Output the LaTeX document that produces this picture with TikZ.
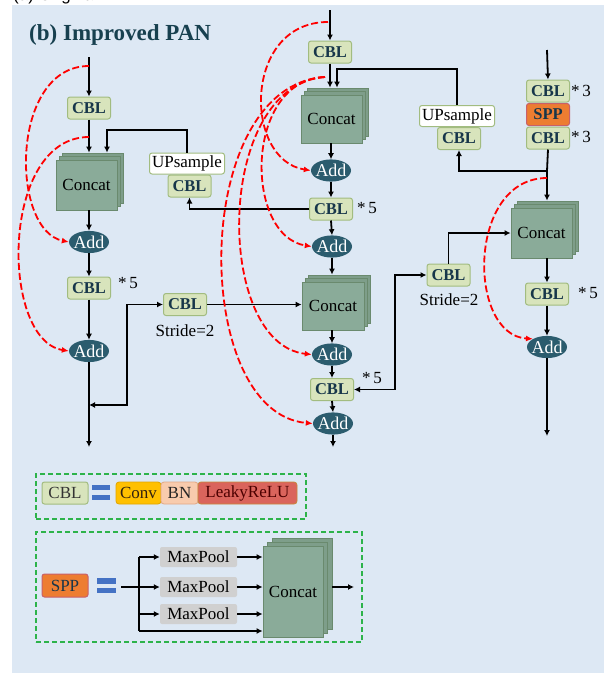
\documentclass[tikz,border=0pt]{standalone}
\usepackage{fontspec}
\setmainfont{Liberation Serif}
\setsansfont{Liberation Sans}
\usetikzlibrary{shapes.geometric,arrows.meta,calc}

\definecolor{panelbg}{HTML}{DDE8F4}
\definecolor{cblfill}{HTML}{D8E4BC}
\definecolor{cblborder}{HTML}{A2BC80}
\definecolor{cbltext}{HTML}{17364A}
\definecolor{addfill}{HTML}{2B5C6E}
\definecolor{catfill}{HTML}{8AAB99}
\definecolor{catback}{HTML}{7E9E8A}
\definecolor{catborder}{HTML}{6A8A6E}
\definecolor{titlecol}{HTML}{17404F}
\definecolor{sppfill}{HTML}{ED7D31}
\definecolor{sppborder}{HTML}{C8606A}
\definecolor{legend}{HTML}{2DB34A}
\definecolor{eqblue}{HTML}{4472C4}
\definecolor{convfill}{HTML}{FFC000}
\definecolor{convborder}{HTML}{E0A400}
\definecolor{bnfill}{HTML}{F8CBAD}
\definecolor{bnborder}{HTML}{E2A885}
\definecolor{leakyfill}{HTML}{DA645C}
\definecolor{leakyborder}{HTML}{C8883A}
\definecolor{poolfill}{HTML}{D0D0D0}

% three stacked cards labelled Concat: name, x, y, width, height, dx, dy
\newcommand\concatstack[7]{%
  \node[catbk, minimum width=#4, minimum height=#5] (#1-b2) at ($(#2,#3)+(#6,-#7)$) {};
  \node[catbk, minimum width=#4, minimum height=#5] (#1-b1) at ($(#2,#3)+(0.5*#6,-0.5*#7)$) {};
  \node[catfr, minimum width=#4, minimum height=#5] (#1) at (#2,#3) {Concat};
}

\begin{document}
\begin{tikzpicture}[x=1pt,y=-1pt,
  every node/.style={font=\fontsize{17}{19}\selectfont},
  conn/.style={line width=1.8pt, -{Latex[length=6pt,width=6pt]}},
  conntwo/.style={line width=1.8pt, {Latex[length=6pt,width=6pt]}-{Latex[length=6pt,width=6pt]}},
  plainline/.style={line width=1.8pt},
  skip/.style={red, line width=1.8pt, dash pattern=on 7pt off 3pt, -{Latex[length=7pt,width=6pt]}},
  cbl/.style={draw=cblborder, fill=cblfill, text=cbltext, line width=1pt, rounded corners=2.5pt,
    minimum width=43pt, minimum height=22pt, inner sep=0pt, font=\bfseries\fontsize{16.5}{19}\selectfont},
  ups/.style={cbl, fill=white, text=black, minimum width=75pt, minimum height=21pt, font=\fontsize{17}{19}\selectfont},
  spp/.style={cbl, draw=sppborder, fill=sppfill},
  addn/.style={ellipse, fill=addfill, text=white, minimum width=40pt, minimum height=22pt,
    inner xsep=-3pt, inner ysep=1.5pt, font=\fontsize{18}{20}\selectfont},
  catfr/.style={draw=catborder, fill=catfill, text=black, line width=0.8pt, inner sep=0pt},
  catbk/.style={draw=catborder, fill=catback, line width=0.8pt, inner sep=0pt},
  note/.style={text=black, inner sep=0pt},
  legbox/.style={draw=legend, line width=2pt, dash pattern=on 5pt off 3pt, inner sep=0pt},
  part/.style={draw, line width=0.8pt, rounded corners=3pt, minimum height=22pt, inner sep=0pt},
  pool/.style={fill=poolfill, rounded corners=2pt, minimum width=77pt, minimum height=20pt, inner sep=0pt}
]
\useasboundingbox (0,0) rectangle (608,673);
\fill[white] (0,0) rectangle (608,673);
\begin{scope}
  \clip (0,0) rectangle (608,5);
  \node[anchor=base west, inner sep=0pt, font=\sffamily\fontsize{17}{19}\selectfont] at (13,0.5) {(a) Original PAN};
\end{scope}
\fill[panelbg] (12,5) rectangle (604,673);

\node[anchor=base west, inner sep=0pt, text=titlecol, font=\bfseries\fontsize{23}{26}\selectfont] (title) at (29,40) {(b) Improved PAN};

% ---------------- left column ----------------
\coordinate (inL) at (89,57);
\node[cbl] (cblL1) at (89,108) {CBL};
\concatstack{catL}{86.5}{185}{61pt}{50pt}{6}{7}
\node[ups] (upL) at (187,163.5) {UPsample};
\node[cbl] (cbuL) at (189.5,186) {CBL};
\node[addn] (addL1) at (89,242) {Add};
\node[cbl] (cblL2) at (89,288) {CBL};
\node[note] at (128,283) {*\,5};
\node[addn] (addL2) at (89,351) {Add};
\coordinate (jL) at (89,405);
\coordinate (kL) at (127,405);
\coordinate (outL) at (89,447);
\node[cbl] (cblS1) at (185,304.5) {CBL};
\node[note] at (185,331) {Stride=2};

% ---------------- middle column ----------------
\coordinate (inM) at (330,10);
\node[cbl] (cblM1) at (330,52) {CBL};
\concatstack{catM1}{331.5}{119}{61pt}{48pt}{6}{7}
\node[addn] (addM1) at (331,170.5) {Add};
\node[cbl] (cblM2) at (331,209) {CBL};
\node[note] at (367,208) {*\,5};
\node[addn] (addM2) at (332,246.5) {Add};
\concatstack{catM2}{333}{306}{62pt}{48pt}{6}{7}
\node[addn] (addM3) at (332,354.5) {Add};
\node[cbl] (cblM3) at (332,389.5) {CBL};
\node[note] at (372,378) {*\,5};
\node[addn] (addM4) at (333,423.5) {Add};
\coordinate (outM) at (333,447);
\node[cbl] (cblS2) at (448.5,275) {CBL};
\node[note] at (449,300) {Stride=2};
\coordinate (kM) at (395,389.5);

% ---------------- right column ----------------
\coordinate (inR) at (547,50);
\node[cbl] (cblR1) at (548,91) {CBL};
\node[note] at (581,91) {*\,3};
\node[spp] (sppR) at (548,114.5) {SPP};
\node[cbl] (cblR2) at (548,138) {CBL};
\node[note] at (581,137) {*\,3};
\node[ups] (upR) at (457,116) {UPsample};
\node[cbl] (cbuR) at (459,138.5) {CBL};
\coordinate (jR) at (547,171);
\concatstack{catR}{541.5}{233}{61pt}{50pt}{6}{7}
\node[cbl] (cblR3) at (547,294) {CBL};
\node[note] at (588,293) {*\,5};
\node[addn] (addR) at (547,347) {Add};
\coordinate (outR) at (547,436);

% ---------------- connectors ----------------
\draw[conn] (inL) -- (cblL1.north);
\draw[conn] (cblL1.south) -- (cblL1.south |- catL-b2.north);
\coordinate (tL) at (107,130);
\draw[conn] (upL.north) |- (tL) -- (tL |- catL-b2.north);
\draw[conn] (catL.south -| addL1.north) -- (addL1.north);
\draw[conn] (addL1.south) -- (cblL2.north);
\draw[conn] (cblL2.south) -- (addL2.north);
\draw[conn] (addL2.south) -- (outL);
\draw[conntwo] (jL) -- (kL) |- (cblS1.west);
\draw[conn] (cblS1.east) -- (cblS1.east -| catM2.west);

\draw[conn] (inM) -- (cblM1.north);
\draw[conn] (cblM1.south) -- (cblM1.south |- catM1-b2.north);
\coordinate (tM) at (337,69);
\draw[conn] (upR.north) |- (tM) -- (tM |- catM1-b2.north);
\draw[conn] (catM1.south -| addM1.north) -- (addM1.north);
\draw[conn] (addM1.south) -- (cblM2.north);
\draw[conn] (cblM2.west) -| (cbuL.south);
\draw[conn] (cblM2.south) -- (addM2.north);
\draw[conn] (addM2.south) -- (addM2.south |- catM2-b2.north);
\draw[conn] (catM2.south -| addM3.north) -- (addM3.north);
\draw[conn] (addM3.south) -- (cblM3.north);
\draw[conn] (cblM3.south) -- (addM4.north);
\draw[conn] (addM4.south) -- (outM);
\draw[conntwo] (cblS2.west) -| (kM) -- (cblM3.east);
\draw[conn] (cblS2.north) |- (catR.west);

\draw[conn] (inR) -- (cblR1.north);
\draw[plainline] (cblR2.south) -- (jR);
\draw[conn] (jR) -- (jR |- catR-b2.north);
\draw[conn] (jR) -| (cbuR.south);
\draw[conn] (catR.south -| cblR3.north) -- (cblR3.north);
\draw[conn] (cblR3.south) -- (addR.north);
\draw[conn] (addR.south) -- (outR);

% ---------------- residual skips ----------------
\coordinate (sL1) at (89,66);
\coordinate (sL2) at (89,137);
\coordinate (sM1) at (328,22);
\coordinate (sM2) at (325,77);
\coordinate (sR) at (547,178);
\draw[skip] (sL1) .. controls (10,66) and (10,230) .. (addL1.west);
\draw[skip] (sL2) .. controls (0,137) and (0,340) .. (addL2.west);
\draw[skip] (sM1) .. controls (243,22) and (243,160) .. (addM1.west);
\draw[skip] (sM2) .. controls (244,80) and (244,236) .. (addM2.west);
\draw[skip] (sM2) .. controls (214,85) and (214,344) .. (addM3.west);
\draw[skip] (sM2) .. controls (190,85) and (190,413) .. (addM4.west);
\draw[skip] (sR) .. controls (467,178) and (467,335) .. (addR.150);

% ---------------- legend: CBL ----------------
\node[legbox, minimum width=270pt, minimum height=45pt] (leg1) at (171,496.5) {};
\node[cbl, text=black!80, minimum width=46pt, font=\fontsize{17}{19}\selectfont] (lcbl) at (65,493) {CBL};
\fill[eqblue] (92,485) rectangle (110,490);
\fill[eqblue] (92,495) rectangle (110,500);
\node[part, draw=convborder, fill=convfill, text=black!75!brown, minimum width=45pt] (lconv) at (138.5,493) {Conv};
\node[part, draw=bnborder, fill=bnfill, text=black!85, minimum width=37pt] (lbn) at (179.5,493) {BN};
\node[part, draw=leakyborder, fill=leakyfill, text=black!70!red, minimum width=99pt] (lleaky) at (247.5,493) {LeakyReLU};

% ---------------- legend: SPP ----------------
\node[legbox, minimum width=326pt, minimum height=110pt] (leg2) at (199,587) {};
\node[spp, minimum width=46pt, minimum height=23pt, font=\fontsize{17}{19}\selectfont] (lspp) at (65,585.5) {SPP};
\fill[eqblue] (97,578) rectangle (116,584);
\fill[eqblue] (97,588) rectangle (116,593);
\node[pool] (mp1) at (198.5,557) {MaxPool};
\node[pool] (mp2) at (198.5,587) {MaxPool};
\node[pool] (mp3) at (198.5,614) {MaxPool};
\concatstack{catS}{293}{591.5}{60pt}{91pt}{9}{8}
\coordinate (sppin) at (121,587);
\coordinate (brT) at (139,557);
\coordinate (brM) at (139,587);
\coordinate (brB) at (139,631);
\draw[plainline] (sppin) -- (brM);
\draw[plainline] (brT) -- (brB);
\draw[conn] (brT) -- (mp1.west);
\draw[conn] (brM) -- (mp2.west);
\draw[conn] (brM |- mp3.west) -- (mp3.west);
\draw[conn] (brB) -- (brB -| catS.west);
\draw[conn] (mp1.east) -- (mp1.east -| catS.west);
\draw[conn] (mp2.east) -- (mp2.east -| catS.west);
\draw[conn] (mp3.east) -- (mp3.east -| catS.west);
\coordinate (sppout) at (354,587);
\draw[conn] (catS-b2.east |- sppout) -- (sppout);
\end{tikzpicture}
\end{document}
